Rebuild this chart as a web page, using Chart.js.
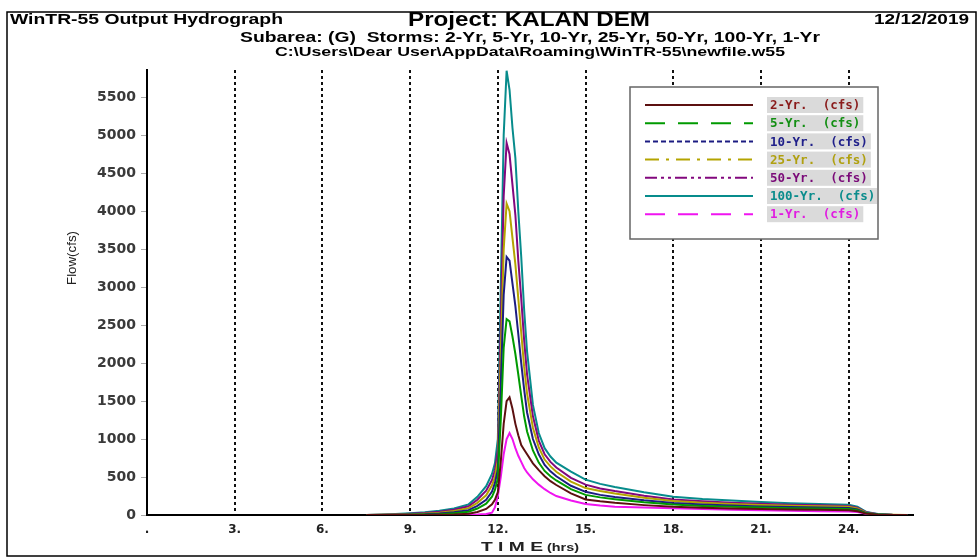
<!DOCTYPE html>
<html>
<head>
<meta charset="utf-8">
<script src="https://cdn.jsdelivr.net/npm/chart.js@4.4.1/dist/chart.umd.min.js"></script>
<style>
  html, body { margin: 0; padding: 0; background: #fff; }
  #wrap { position: relative; width: 980px; height: 560px; }
</style>
</head>
<body>
<div id="wrap"><canvas id="chart"></canvas></div>
<script>
// time axis (hrs)
const hours = [7.5, 8, 8.5, 9, 9.5, 10, 10.5, 11, 11.3, 11.6, 11.8, 11.9,
  12.0, 12.1, 12.2, 12.3, 12.4, 12.5, 12.6, 12.7, 12.8, 12.9,
  13.0, 13.2, 13.4, 13.6, 13.8, 14.0, 14.5, 15,
  15.5, 16, 17, 18, 19, 20, 21, 22, 23, 24, 24.3, 24.6, 25, 25.5, 26];

// flow (cfs)
const flow2yr = [0, 0, 0, 0, 0, 2, 6, 16, 40, 80, 140, 200,
  300, 700, 1200, 1500, 1550, 1400, 1200, 1050, 920, 860,
  800, 680, 590, 510, 445, 395, 285, 205,
  180, 160, 130, 108, 95, 86, 78, 72, 68, 64, 50, 18, 4, 1, 0];
const flow5yr = [0, 0, 0, 2, 5, 10, 22, 42, 85, 150, 240, 330,
  480, 1250, 2200, 2580, 2550, 2350, 2120, 1850, 1570, 1300,
  1100, 850, 690, 580, 510, 455, 340, 265,
  232, 208, 168, 137, 120, 108, 98, 90, 85, 80, 62, 22, 5, 1, 0];
const flow10yr = [0, 0, 2, 5, 10, 20, 36, 64, 120, 200, 310, 420,
  600, 1700, 2900, 3400, 3350, 3050, 2750, 2380, 2000, 1650,
  1350, 1000, 800, 660, 575, 510, 385, 305,
  265, 238, 193, 157, 138, 124, 113, 104, 98, 92, 72, 25, 6, 1, 0];
const flow25yr = [0, 2, 5, 10, 18, 30, 52, 90, 160, 260, 390, 500,
  720, 2100, 3500, 4100, 4000, 3650, 3300, 2850, 2400, 1950,
  1600, 1150, 890, 730, 640, 570, 440, 355,
  315, 282, 228, 185, 162, 146, 133, 122, 115, 108, 85, 30, 8, 2, 0];
const flow50yr = [0, 3, 8, 15, 26, 42, 68, 115, 200, 320, 460, 590,
  850, 2500, 4200, 4900, 4750, 4350, 3950, 3350, 2850, 2300,
  1850, 1300, 980, 800, 700, 625, 490, 400,
  350, 315, 255, 205, 180, 162, 147, 135, 127, 120, 95, 35, 10, 2, 0];
const flow100yr = [0, 5, 12, 22, 35, 55, 85, 140, 240, 380, 540, 680,
  1000, 3000, 5000, 5850, 5600, 5100, 4700, 4000, 3400, 2700,
  2150, 1450, 1080, 880, 770, 690, 570, 465,
  410, 370, 300, 240, 210, 190, 170, 155, 145, 135, 110, 40, 12, 3, 0];
const flow1yr = [0, 0, 0, 0, 0, 0, 0, 2, 5, 12, 30, 100,
  250, 500, 800, 1000, 1080, 1000, 880, 780, 700, 620,
  560, 470, 400, 340, 290, 250, 190, 145,
  125, 110, 100, 90, 80, 70, 62, 55, 50, 45, 38, 15, 4, 1, 0];

const storms = ['2-Yr', '5-Yr', '10-Yr', '25-Yr', '50-Yr', '100-Yr', '1-Yr'];
const series = [flow2yr, flow5yr, flow10yr, flow25yr, flow50yr, flow100yr, flow1yr];
const colors = ['#5c1010', '#009a00', '#1c1c82', '#b4a400', '#82087e', '#078c8c', '#f014f0'];
const textColors = ['#8a1c1c', '#138f13', '#20208a', '#b0a010', '#7a0a78', '#0a8c8c', '#e01ce0'];
const dashes = [[], [20, 13], [5, 3], [14, 7, 3, 7], [12, 4, 3, 4, 3, 4], [], [20, 13]];

// tick values and axis ranges
const yTickValues = [0, 500, 1000, 1500, 2000, 2500, 3000, 3500, 4000, 4500, 5000, 5500];
const xTickValues = [0, 3, 6, 9, 12, 15, 18, 21, 24];
const xTickLabels = ['.', '3.', '6.', '9.', '12.', '15.', '18.', '21.', '24.'];
const yMax = 5860;
const xMax = 26.2;

// stretch text horizontally to the width it has in the original
function putText(ctx, txt, x, y, font, w, align, color) {
  ctx.save();
  ctx.font = font;
  ctx.fillStyle = color || '#000';
  ctx.textBaseline = 'middle';
  ctx.textAlign = align;
  const m = ctx.measureText(txt).width;
  ctx.translate(x, y);
  ctx.scale(w / m, 1);
  ctx.fillText(txt, 0, 0);
  ctx.restore();
}

const decor = {
  id: 'decor',
  afterDraw(chart) {
    const ctx = chart.ctx;
    // frame
    ctx.save();
    ctx.strokeStyle = '#000';
    ctx.lineWidth = 1.5;
    ctx.strokeRect(7, 12, 969, 544);
    ctx.restore();

    putText(ctx, 'WinTR-55 Output Hydrograph', 10, 20, 'bold 15px "Liberation Sans"', 273, 'left');
    putText(ctx, 'Project: KALAN DEM', 529, 20, 'bold 20px "Liberation Sans"', 242, 'center');
    putText(ctx, '12/12/2019', 969, 20, 'bold 15px "Liberation Sans"', 95, 'right');
    putText(ctx, 'Subarea: (G)  Storms: ' + storms.join(', '), 530, 38, 'bold 14px "Liberation Sans"', 580, 'center');
    putText(ctx, 'C:\\Users\\Dear User\\AppData\\Roaming\\WinTR-55\\newfile.w55', 530, 52, 'bold 13px "Liberation Sans"', 510, 'center');

    // axis titles
    ctx.save();
    ctx.translate(72, 258);
    ctx.rotate(-Math.PI / 2);
    putText(ctx, 'Flow(cfs)', 0, 0, '13px "Liberation Sans"', 54, 'center', '#222');
    ctx.restore();
    putText(ctx, 'T I M E', 481, 548, 'bold 12px "Liberation Sans"', 62, 'left', '#222');
    putText(ctx, '(hrs)', 547, 548, 'bold 11px "Liberation Sans"', 32, 'left', '#222');

    // legend box
    const bx = 630, by = 87, bw = 248, bh = 152;
    ctx.save();
    ctx.fillStyle = '#fff';
    ctx.fillRect(bx, by, bw, bh);
    ctx.strokeStyle = '#666';
    ctx.lineWidth = 1.5;
    ctx.strokeRect(bx, by, bw, bh);
    chart.data.datasets.forEach((ds, i) => {
      const yy = 105 + i * 18.2;
      ctx.beginPath();
      ctx.setLineDash(ds.legendDash);
      ctx.strokeStyle = ds.borderColor;
      ctx.lineWidth = 2;
      ctx.moveTo(645, yy);
      ctx.lineTo(753, yy);
      ctx.stroke();
      ctx.setLineDash([]);
      ctx.font = 'bold 12.5px "DejaVu Sans Mono"';
      const tw = ctx.measureText(ds.label).width;
      ctx.fillStyle = '#dadada';
      ctx.fillRect(767, yy - 8, Math.min(tw + 6, bx + bw - 768), 16);
      ctx.fillStyle = ds.textColor;
      ctx.textBaseline = 'middle';
      ctx.textAlign = 'left';
      ctx.fillText(ds.label, 770, yy + 1);
    });
    ctx.restore();
  }
};

const datasets = storms.map((s, i) => ({
  label: s + '.  (cfs)',
  data: hours.map((h, k) => ({ x: h, y: series[i][k] })),
  borderColor: colors[i],
  textColor: textColors[i],
  legendDash: dashes[i],
  borderWidth: 2,
  pointRadius: 0,
  tension: 0,
  fill: false
}));

new Chart(document.getElementById('chart'), {
  type: 'line',
  data: { datasets },
  plugins: [decor],
  options: {
    responsive: true,
    maintainAspectRatio: false,
    devicePixelRatio: 1,
    animation: false,
    layout: { padding: { top: 70, right: 67, bottom: 0, left: 0 } },
    plugins: { legend: { display: false }, tooltip: { enabled: false } },
    scales: {
      x: {
        type: 'linear',
        min: 0,
        max: xMax,
        afterFit(scale) { scale.height = 45; },
        afterBuildTicks(scale) { scale.ticks = xTickValues.map(v => ({ value: v })); },
        ticks: {
          autoSkip: false,
          maxRotation: 0,
          padding: 8,
          color: '#222',
          font: { family: 'DejaVu Sans', size: 12, weight: 'bold' },
          callback: (v, i) => xTickLabels[i]
        },
        grid: {
          drawTicks: false,
          lineWidth: 2,
          color: c => (c.tick && c.tick.value > 0 ? '#111' : 'rgba(0,0,0,0)')
        },
        border: { color: '#000', width: 2, dash: [3, 3] }
      },
      y: {
        type: 'linear',
        min: 0,
        max: yMax,
        afterFit(scale) { scale.width = 147; },
        afterBuildTicks(scale) { scale.ticks = yTickValues.map(v => ({ value: v })); },
        ticks: {
          autoSkip: false,
          padding: 5,
          color: '#3a3a3a',
          font: { family: 'DejaVu Sans', size: 14, weight: 'bold' },
          callback: v => String(v)
        },
        grid: { drawOnChartArea: false, drawTicks: true, tickLength: 6, tickColor: '#aaa' },
        border: { color: '#000', width: 2 }
      }
    }
  }
});
</script>
</body>
</html>
